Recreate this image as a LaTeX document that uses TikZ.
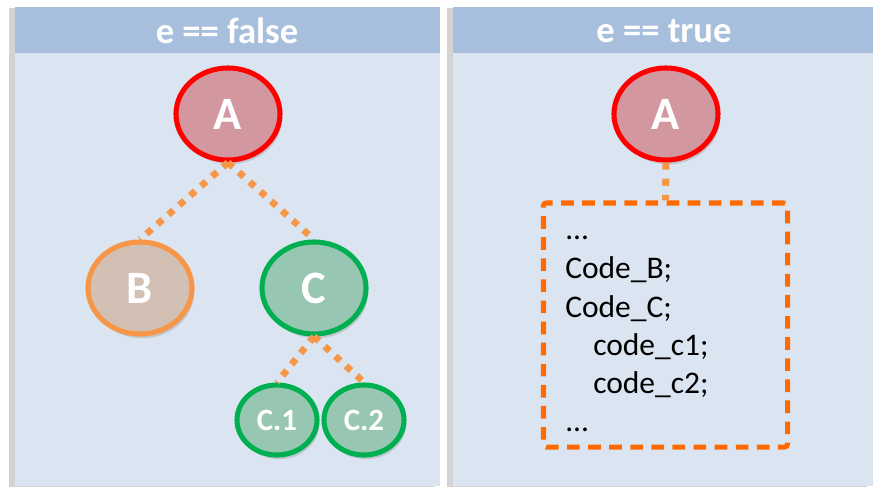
\documentclass[tikz,border=0pt]{standalone}
\usepackage{fontspec}
\setmainfont{Carlito}
\usepackage{tikz}
\usetikzlibrary{shapes.geometric,shadows}
\definecolor{headblue}{HTML}{A7BFDD}
\definecolor{bodyblue}{HTML}{DBE5F1}
\definecolor{afill}{HTML}{D3979F}
\definecolor{bfill}{HTML}{D2C0B4}
\definecolor{cfill}{HTML}{97C7B3}
\definecolor{borange}{HTML}{F79646}
\definecolor{cgreen}{HTML}{00B050}
\definecolor{boxorange}{HTML}{FF6A00}

\begin{document}
\begin{tikzpicture}[x=0.025cm,y=-0.025cm,
  panel/.style={fill=bodyblue,drop shadow={shadow xshift=-4pt,shadow yshift=-1pt,opacity=0.35}},
  headbar/.style={fill=headblue},
  headtext/.style={text=white,font=\bfseries\fontsize{26}{26}\selectfont},
  bignode/.style={ellipse,line width=3.6pt,minimum width=2.6cm,minimum height=2.3cm,inner sep=0pt,
    text=white,font=\bfseries\fontsize{33}{33}\selectfont,
    drop shadow={shadow xshift=1.5pt,shadow yshift=-3pt,opacity=0.3}},
  smallnode/.style={ellipse,line width=3.6pt,minimum width=2cm,minimum height=1.75cm,inner sep=0pt,
    text=white,font=\bfseries\fontsize{22}{22}\selectfont,draw=cgreen,fill=cfill,
    drop shadow={shadow xshift=1.5pt,shadow yshift=-3pt,opacity=0.3}},
  dotline/.style={draw=borange,line width=4.8pt,dash pattern=on 4.8pt off 5.5pt},
  codeline/.style={anchor=base west,inner sep=0pt,font=\fontsize{22.4}{22.4}\selectfont}]
  \useasboundingbox (0,0) rectangle (877,487);
  % panels
  \path[panel] (15,7) rectangle (440,486);
  \path[headbar] (15,7) rectangle (440,53);
  \path[panel] (453,7) rectangle (873,486);
  \path[headbar] (453,7) rectangle (873,53);
  \node[headtext] (hfalse) at (227,31) {e == false};
  \node[headtext] (htrue) at (664,31) {e == true};
  % e == false
  \node[bignode,draw=red,fill=afill] (a1) at (228,114) {A};
  \node[bignode,draw=borange,fill=bfill] (b) at (140,288) {B};
  \node[bignode,draw=cgreen,fill=cfill] (c) at (314,288) {C};
  \node[smallnode] (c1) at (277,420) {C.1};
  \node[smallnode] (c2) at (364,420) {C.2};
  \draw[dotline] (a1.south) to (b.north);
  \draw[dotline] (a1.south) to (c.north);
  \draw[dotline] (c.south) to (c1.north);
  \draw[dotline] (c.south) to (c2.north);
  % e == true
  \node[bignode,draw=red,fill=afill] (a2) at (666,114) {A};
  \node[draw=boxorange,fill=bodyblue,line width=3.6pt,dash pattern=on 9pt off 6pt,rounded corners=2pt,
    minimum width=6.1cm,minimum height=6.1cm] (code) at (665.5,325) {};
  \draw[draw=borange,line width=5pt,dash pattern=on 5pt off 6.5pt] (a2.south) to (code.north);
  \node[codeline] (l1) at (565,239.5) {...};
  \node[codeline] (l2) at (565,278) {Code\_B;};
  \node[codeline] (l3) at (565,317) {Code\_C;};
  \node[codeline] (l4) at (593,355) {code\_c1;};
  \node[codeline] (l5) at (593,393) {code\_c2;};
  \node[codeline] (l6) at (565,431.5) {...};
\end{tikzpicture}
\end{document}
